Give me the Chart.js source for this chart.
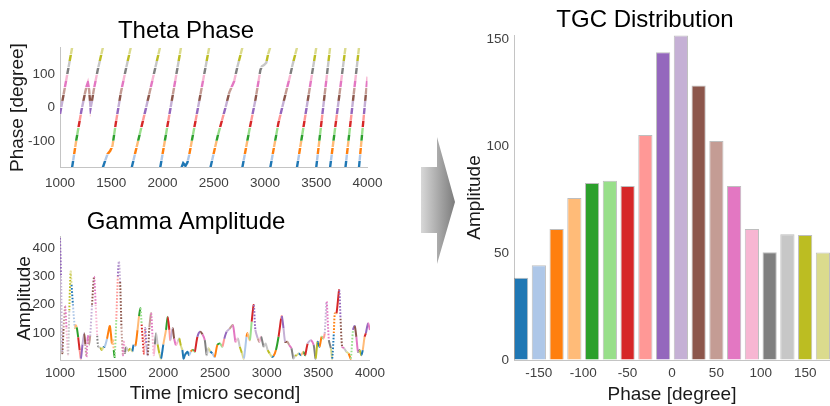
<!DOCTYPE html>
<html>
<head>
<meta charset="utf-8">
<script src="https://cdn.jsdelivr.net/npm/chart.js@4.4.1/dist/chart.umd.min.js"></script>
<style>
  html, body { margin: 0; padding: 0; background: #fff; }
  #wrap { position: relative; width: 830px; height: 406px; overflow: hidden; }
  #wrap canvas, #wrap svg { position: absolute; }
</style>
</head>
<body>
<div id="wrap">
  <canvas id="theta" width="390" height="200" style="left:0px;top:0px"></canvas>
  <canvas id="gamma" width="390" height="206" style="left:0px;top:200px"></canvas>
  <svg width="830" height="406" style="left:0px;top:0px">
    <defs>
      <linearGradient id="arrowFill" gradientUnits="userSpaceOnUse" x1="421" y1="0" x2="455" y2="0">
        <stop offset="0" stop-color="#d8d8d8"/>
        <stop offset="1" stop-color="#7c7c7c"/>
      </linearGradient>
    </defs>
    <polygon points="421,167 437,167 437,137 455,202 437,264 437,233 421,233" fill="url(#arrowFill)"/>
  </svg>
  <canvas id="tgc" width="370" height="406" style="left:460px;top:0px"></canvas>
</div>
<script>
// phase bins of 20 degrees, one colour each
var binColors = ['#1f77b4', '#aec7e8', '#ff7f0e', '#ffbb78', '#2ca02c', '#98df8a', '#d62728', '#ff9896', '#9467bd',
                 '#c5b0d5', '#8c564b', '#c49c94', '#e377c2', '#f7b6d2', '#7f7f7f', '#c7c7c7', '#bcbd22', '#dbdb8d'];

// theta phase (a null phase marks the wrap from 180 to -180)
var thetaTime  = [1000, 1118, 1118, 1118, 1160, 1208, 1245, 1260, 1272, 1284, 1298, 1312, 1330, 1368, 1418,
                  1418, 1418, 1440, 1464, 1490, 1512, 1545, 1593, 1641, 1690,
                  1695, 1700, 1840, 1975,
                  1976, 1978, 2180,
                  2183, 2186, 2202, 2224, 2243, 2262, 2455,
                  2462, 2468, 2538, 2618, 2651, 2699, 2731, 2779,
                  2779, 2779, 2843, 2907, 2955, 2970, 2990, 3013, 3030, 3050,
                  3051, 3052, 3131, 3195, 3243, 3270, 3312,
                  3312, 3312, 3500,
                  3500, 3500, 3635,
                  3635, 3635, 3785,
                  3785, 3785, 3917,
                  3917, 3917, 4000];
var thetaPhase = [-20, 180, null, -180, -96, -11, 45, 65, 76, 55, -2, 20, 54, 113, 180,
                  null, -180, -160, -140, -130, -115, -46, 44, 113, 180,
                  null, -180, 0, 180,
                  null, -180, 180,
                  null, -180, -167, -175, -165, -140, 180,
                  null, -180, -86, 4, 45, 79, 123, 180,
                  null, -180, -75, 24, 113, 124, 128, 135, 160, 180,
                  null, -180, -46, 34, 93, 130, 180,
                  null, -180, 180,
                  null, -180, 180,
                  null, -180, 180,
                  null, -180, 180,
                  null, -180, 93];

// gamma amplitude
var gammaTime = [1000, 1010, 1022, 1035, 1050, 1062, 1078, 1090, 1103, 1112, 1125, 1144, 1152, 1162, 1176, 1190, 1202,
                 1218, 1234, 1245, 1256, 1265, 1272, 1280, 1292, 1310, 1330, 1345, 1360, 1370, 1390, 1405, 1420, 1433,
                 1455, 1481, 1492, 1503, 1512, 1520, 1529, 1545, 1560, 1571, 1582, 1595, 1609, 1618, 1628, 1640, 1660,
                 1680, 1700, 1712, 1730, 1750, 1765, 1779, 1790, 1801, 1812, 1824, 1836, 1849, 1865, 1882, 1895, 1907,
                 1918, 1930, 1945, 1962, 1978, 2000, 2026, 2042, 2058, 2068, 2090, 2105, 2122, 2140, 2154, 2170, 2184,
                 2196, 2209, 2222, 2234, 2250, 2266, 2282, 2295, 2305, 2330, 2356, 2380, 2401, 2420, 2435, 2455, 2475,
                 2497, 2523, 2548, 2571, 2590, 2613, 2640, 2673, 2699, 2721, 2740, 2760, 2779, 2805, 2815, 2837, 2855,
                 2875, 2891, 2914, 2930, 2946, 2972, 2990, 3010, 3029, 3051, 3067, 3090, 3115, 3140, 3147, 3163, 3179,
                 3200, 3218, 3240, 3259, 3275, 3291, 3310, 3333, 3356, 3372, 3397, 3429, 3455, 3474, 3493, 3512, 3532,
                 3548, 3562, 3580, 3602, 3622, 3634, 3650, 3660, 3676, 3702, 3715, 3730, 3750, 3772, 3793, 3814, 3836,
                 3852, 3868, 3884, 3900, 3916, 3930, 3948, 3960, 3981, 4000];
var gammaAmp  = [435, 300, 30, 120, 195, 120, 25, 180, 317, 270, 200, 118, 128, 120, 85, 40, 10,
                 60, 99, 60, 16, 70, 90, 58, 90, 200, 299, 200, 90, 52, 48, 40, 50, 52,
                 80, 125, 100, 63, 75, 40, 16, 150, 300, 352, 280, 120, 22, 70, 30, 50, 38,
                 45, 36, 58, 55, 110, 160, 187, 130, 75, 28, 117, 60, 22, 120, 170, 90, 22,
                 60, 99, 60, 28, 10, 60, 111, 158, 111, 75, 117, 80, 58, 70, 81, 55, 40,
                 10, 22, 30, 34, 22, 35, 40, 38, 34, 87, 105, 95, 75, 22, 46, 35, 28,
                 16, 58, 63, 52, 80, 105, 115, 128, 69, 81, 52, 30, 10, 87, 99, 75, 140,
                 199, 111, 81, 69, 87, 52, 63, 40, 28, 16, 19, 40, 87, 152, 160, 117, 69,
                 69, 58, 46, 10, 20, 22, 28, 22, 34, 22, 63, 75, 58, 10, 69, 52, 87,
                 81, 99, 211, 75, 46, 10, 100, 170, 170, 252, 150, 52, 46, 34, 28, 10, 111,
                 125, 87, 34, 40, 22, 40, 87, 99, 134, 111];

// TGC distribution bars
var phaseCenters = [-170, -150, -130, -110, -90, -70, -50, -30, -10, 10, 30, 50, 70, 90, 110, 130, 150, 170];
var tgcAmp = [38.5, 44.4, 61.4, 75.9, 82.9, 83.9, 81.5, 105.4, 144.1, 152, 128.5, 102.6, 81.5, 61.3, 50.5, 58.9, 58.5, 50.4];

// tick labels
var timeTicks = [1000, 1500, 2000, 2500, 3000, 3500, 4000];
var thetaTicks = [-100, 0, 100];
var gammaTicks = [100, 200, 300, 400];
var phaseTicks = [-150, -100, -50, 0, 50, 100, 150];
var tgcTicks = [0, 50, 100, 150];

Chart.defaults.font.family = '"Liberation Sans", Arial, Helvetica, sans-serif';
Chart.defaults.animation = false;
Chart.defaults.plugins.legend.display = false;
Chart.defaults.plugins.tooltip.enabled = false;

var tickColor = '#404040';
var labelColor = '#1a1a1a';
var axisColor = '#c4c4c4';

function binOf(deg) {
  return Math.max(0, Math.min(17, Math.floor((deg + 180) / 20)));
}

function phaseAt(t) {
  for (var k = 0; k < thetaTime.length - 1; k++) {
    if (t >= thetaTime[k] && t <= thetaTime[k + 1]) {
      var a = thetaPhase[k], b = thetaPhase[k + 1];
      if (a === null) return b;
      if (b === null) return a;
      var span = thetaTime[k + 1] - thetaTime[k];
      return span ? a + (b - a) * (t - thetaTime[k]) / span : b;
    }
  }
  return thetaPhase[thetaPhase.length - 1];
}

// vertical gradient with hard stops: line colour follows its own phase bin
function phaseGradient(context) {
  var chart = context.chart;
  if (!chart.chartArea) return binColors[0];
  var y = chart.scales.y;
  var g = chart.ctx.createLinearGradient(0, y.getPixelForValue(-180), 0, y.getPixelForValue(180));
  var gap = 0.004;
  binColors.forEach(function (c, i) {
    var lo = i / 18, hi = (i + 1) / 18;
    g.addColorStop(lo, 'rgba(255,255,255,0.5)');
    g.addColorStop(Math.min(1, lo + gap), c);
    g.addColorStop(Math.max(0, hi - gap - 0.0001), c);
    g.addColorStop(hi - 0.00005, 'rgba(255,255,255,0.5)');
  });
  return g;
}

function fixedTicks(list) {
  return function (scale) {
    scale.ticks = list.map(function (v) { return { value: v }; });
  };
}

function xAxis(min, max, ticks, height, pad, title, titlePad) {
  return {
    type: 'linear', min: min, max: max, offset: false,
    afterBuildTicks: fixedTicks(ticks),
    afterFit: function (s) { s.height = height; },
    grid: { display: true, drawOnChartArea: false, drawTicks: false },
    border: { display: true, color: axisColor, width: 1 },
    ticks: { color: tickColor, font: { size: 13.5 }, padding: pad, maxRotation: 0, autoSkip: false,
             callback: function (v) { return String(v); } },
    title: { display: !!title, text: title, color: labelColor, font: { size: 19 }, padding: { top: 0, bottom: titlePad } }
  };
}

function yAxis(min, max, ticks, width, title, titlePad) {
  return {
    min: min, max: max,
    afterBuildTicks: fixedTicks(ticks),
    afterFit: function (s) { s.width = width; },
    grid: { display: true, drawOnChartArea: false, drawTicks: false },
    border: { display: true, color: axisColor, width: 1 },
    ticks: { color: tickColor, font: { size: 13.5 }, padding: 5, autoSkip: false,
             callback: function (v) { return String(v); } },
    title: { display: true, text: title, color: labelColor, font: { size: 19 }, padding: { top: titlePad, bottom: 0 } }
  };
}

function chartTitle(text, top, bottom) {
  return { display: true, text: text, color: '#000', font: { size: 24, weight: 'normal' }, padding: { top: top, bottom: bottom } };
}

new Chart(document.getElementById('theta'), {
  type: 'line',
  data: {
    datasets: [{
      data: thetaTime.map(function (t, i) { return { x: t, y: thetaPhase[i] }; }),
      borderColor: phaseGradient,
      borderWidth: 2.4,
      pointRadius: 0,
      spanGaps: false,
      tension: 0
    }]
  },
  options: {
    responsive: false,
    devicePixelRatio: 1,
    layout: { padding: { left: 0, right: 18, top: 0, bottom: 0 } },
    plugins: { title: chartTitle('Theta Phase', 16.6, 2.3) },
    scales: {
      x: xAxis(1000, 4000, timeTicks, 32.5, 7.5, '', 0),
      y: yAxis(-180, 180, thetaTicks, 60, 'Phase [degree]', 6.6)
    }
  }
});

new Chart(document.getElementById('gamma'), {
  type: 'line',
  data: {
    datasets: [{
      data: gammaTime.map(function (t, i) { return { x: t, y: gammaAmp[i] }; }),
      borderWidth: 2,
      pointRadius: 0,
      tension: 0.25,
      segment: {
        borderColor: function (c) {
          return binColors[binOf(phaseAt((c.p0.parsed.x + c.p1.parsed.x) / 2))];
        },
        // very steep stretches are drawn dotted, as in the original
        borderDash: function (c) {
          return Math.abs(c.p1.y - c.p0.y) > 10 * Math.abs(c.p1.x - c.p0.x) ? [1.6, 1.6] : undefined;
        }
      }
    }]
  },
  options: {
    responsive: false,
    devicePixelRatio: 1,
    layout: { padding: { left: 0, right: 18, top: 0, bottom: 0 } },
    plugins: { title: chartTitle('Gamma Amplitude', 7.6, 0.3) },
    scales: {
      x: xAxis(1000, 4000, timeTicks, 46, 5, 'Time [micro second]', 0.6),
      y: yAxis(5, 440, gammaTicks, 60, 'Amplitude', 13.6)
    }
  }
});

new Chart(document.getElementById('tgc'), {
  type: 'bar',
  data: {
    datasets: [{
      data: phaseCenters.map(function (p, i) { return { x: p, y: tgcAmp[i] }; }),
      backgroundColor: binColors,
      borderColor: 'rgba(70,70,70,0.35)',
      borderWidth: 1,
      categoryPercentage: 1,
      barPercentage: 0.8
    }]
  },
  options: {
    responsive: false,
    devicePixelRatio: 1,
    layout: { padding: { left: 0, right: 0, top: 0, bottom: 0 } },
    plugins: { title: chartTitle('TGC Distribution', 5.6, 0.6) },
    scales: {
      x: xAxis(-178, 178, phaseTicks, 46, 5, 'Phase [degree]', 0),
      y: yAxis(0, 152.2, tgcTicks, 54, 'Amplitude', 3.6)
    }
  }
});
</script>
</body>
</html>
